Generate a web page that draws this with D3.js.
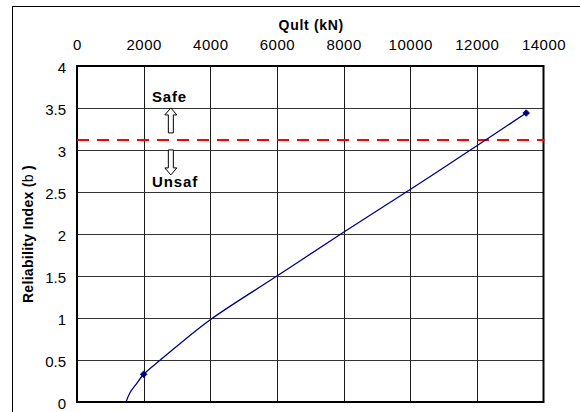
<!DOCTYPE html>
<html>
<head>
<meta charset="utf-8">
<script src="https://cdn.jsdelivr.net/npm/d3@7/dist/d3.min.js"></script>
<style>
  html, body { margin: 0; padding: 0; background: #fff; }
  svg { display: block; }
  text { font-family: "Liberation Sans", Arial, sans-serif; fill: #000; }
</style>
</head>
<body>
<svg id="chart" width="580" height="412"></svg>
<script>
// Ultimate capacity Qult (kN) against reliability index beta
const qult = [1470, 1590, 1790, 2000, 2500, 2950, 4000, 6000, 8000, 10000, 12000, 13480];
const beta = [0, 0.11, 0.22, 0.33, 0.5, 0.65, 0.98, 1.5, 2.02, 2.53, 3.05, 3.44];
// Points shown with a marker
const markedQult = [2000, 13480];
const markedBeta = [0.33, 3.44];
// Target reliability index separating safe and unsafe designs
const targetBeta = 3.12;

const xTicks = [0, 2000, 4000, 6000, 8000, 10000, 12000, 14000];
const yTicks = [0, 0.5, 1, 1.5, 2, 2.5, 3, 3.5, 4];

const svg = d3.select("#chart");
const plotL = 77, plotR = 543.5, plotT = 66, plotB = 402;

const x = d3.scaleLinear().domain([0, 14000]).range([plotL, plotR]);
const y = d3.scaleLinear().domain([0, 4]).range([plotB, plotT]);

// Outer chart frame
svg.append("rect")
  .attr("x", 12.5).attr("y", 6.5)
  .attr("width", 600).attr("height", 420)
  .attr("fill", "#fff").attr("stroke", "#000").attr("stroke-width", 1);

// Gridlines
const grid = svg.append("g");
grid.selectAll("line.v").data(xTicks.slice(1, -1)).join("line")
  .attr("class", "v")
  .attr("x1", d => Math.round(x(d)) + 0.5).attr("x2", d => Math.round(x(d)) + 0.5)
  .attr("y1", plotT).attr("y2", plotB)
  .attr("stroke", "#1a1a1a").attr("stroke-width", 1);
grid.selectAll("line.h").data(yTicks.slice(1, -1)).join("line")
  .attr("class", "h")
  .attr("x1", plotL).attr("x2", plotR)
  .attr("y1", d => Math.round(y(d)) + 0.5).attr("y2", d => Math.round(y(d)) + 0.5)
  .attr("stroke", "#333").attr("stroke-width", 1);

// Top x axis
const xAxis = svg.append("g")
  .attr("transform", `translate(0,${plotT})`)
  .call(d3.axisTop(x).tickValues(xTicks).tickSize(0).tickPadding(16).tickFormat(d3.format("d")));
xAxis.select(".domain").remove();
xAxis.selectAll("text")
  .style("font-family", '"Liberation Sans", Arial, sans-serif')
  .style("font-size", "15px").style("letter-spacing", "0.5px").attr("fill", "#000");

// Left y axis
const yAxis = svg.append("g")
  .attr("transform", `translate(${plotL},0)`)
  .call(d3.axisLeft(y).tickValues(yTicks).tickSize(0).tickPadding(11).tickFormat(d => String(d)));
yAxis.select(".domain").remove();
yAxis.selectAll("text")
  .style("font-family", '"Liberation Sans", Arial, sans-serif')
  .style("font-size", "15px").attr("dy", "0.42em").attr("fill", "#000");

// Plot area border
svg.append("rect")
  .attr("x", plotL).attr("y", plotT)
  .attr("width", plotR - plotL).attr("height", plotB - plotT)
  .attr("fill", "none").attr("stroke", "#000").attr("stroke-width", 2);

// Axis titles
svg.append("text")
  .attr("x", (plotL + plotR) / 2 + 1).attr("y", 30)
  .attr("text-anchor", "middle")
  .style("font-size", "14px").style("font-weight", "bold").style("letter-spacing", "0.7px")
  .text("Qult (kN)");

const yTitle = svg.append("text")
  .attr("transform", `translate(33,${(plotT + plotB) / 2}) rotate(-90)`)
  .attr("text-anchor", "middle")
  .style("font-size", "14px").style("font-weight", "bold").style("letter-spacing", "0.3px");
yTitle.append("tspan").text("Reliability Index (");
yTitle.append("tspan").style("font-weight", "normal").text("b");
yTitle.append("tspan").text(" )");

// Target reliability line
svg.append("line")
  .attr("x1", plotL).attr("x2", plotR + 1)
  .attr("y1", y(targetBeta)).attr("y2", y(targetBeta))
  .attr("stroke", "#ff0000").attr("stroke-width", 2)
  .attr("stroke-dasharray", "12,8");

// Reliability curve
const pts = qult.map((q, i) => [q, beta[i]]);
svg.append("path")
  .datum(pts)
  .attr("fill", "none").attr("stroke", "#000080").attr("stroke-width", 1.3)
  .attr("d", d3.line().x(d => x(d[0])).y(d => y(d[1])).curve(d3.curveCatmullRom.alpha(0.5)));

// Diamond markers
svg.selectAll("path.marker").data(markedQult.map((q, i) => [q, markedBeta[i]])).join("path")
  .attr("class", "marker")
  .attr("transform", d => `translate(${x(d[0])},${y(d[1])}) rotate(45)`)
  .attr("d", d3.symbol().type(d3.symbolSquare).size(22))
  .attr("fill", "#000080").attr("stroke", "#000080").attr("stroke-width", 0.8);

// Safe / unsafe annotation with block arrows
const ax = x(2816), ly = y(targetBeta);
const up = [[0, -32], [6, -25], [2.5, -25], [2.5, -7], [-2.5, -7], [-2.5, -25], [-6, -25]];
const down = up.map(p => [p[0], -p[1] + 3]);
[up, down].forEach(shape => {
  svg.append("path")
    .attr("d", d3.line()(shape.map(p => [ax + p[0], ly + p[1]])) + "Z")
    .attr("fill", "#fff").attr("stroke", "#000").attr("stroke-width", 1);
});
svg.append("text")
  .attr("x", x(2250)).attr("y", ly - 38)
  .style("font-size", "15px").style("font-weight", "bold").style("letter-spacing", "0.8px")
  .text("Safe");
svg.append("text")
  .attr("x", x(2250)).attr("y", ly + 47)
  .style("font-size", "15px").style("font-weight", "bold").style("letter-spacing", "0.9px")
  .text("Unsaf");
</script>
</body>
</html>
